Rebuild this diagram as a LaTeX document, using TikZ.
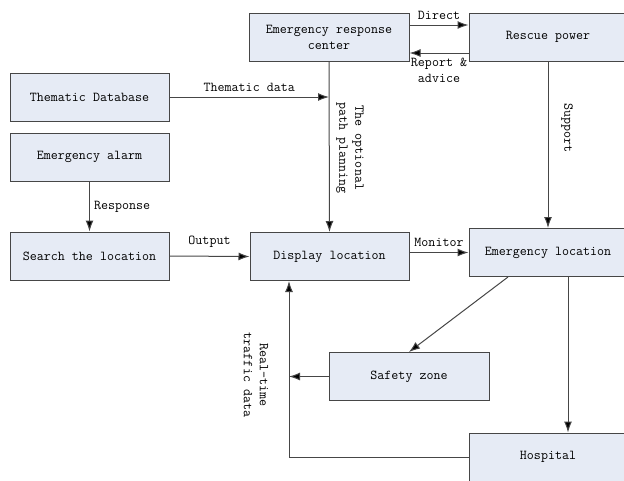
\documentclass[tikz,border=0pt]{standalone}
\usepackage{tikz}
\usetikzlibrary{arrows.meta}
\usetikzlibrary{positioning}
\usetikzlibrary{calc}
\definecolor{boxfill}{RGB}{230,235,245}
\definecolor{edgegray}{RGB}{70,70,70}
\tikzset{
	block/.style={draw=edgegray, fill=boxfill, line width=1pt,
		minimum width=160pt, minimum height=48pt, align=center, inner sep=2pt,
		font=\ttfamily\fontsize{13.6}{16}\selectfont},
	flow/.style={draw=edgegray, line width=1pt, -{Latex[length=11pt,width=8pt,fill=black]}},
	flownoarrow/.style={draw=edgegray, line width=1pt},
	lbl/.style={font=\ttfamily\fontsize{13.6}{16}\selectfont, inner sep=1pt, align=center},
}
\begin{document}
\begin{tikzpicture}[x=1pt, y=-1pt]
	\useasboundingbox (0,0) rectangle (624,480);
	% boxes
	\node[block] (erc) at (329,37) {Emergency response\\center};
	\node[block, minimum width=158pt] (rescue) at (548,37) {Rescue power};
	\node[block, minimum width=159pt] (thematic) at (89.5,97) {Thematic Database};
	\node[block, minimum width=159pt] (alarm) at (89.5,157) {Emergency alarm};
	\node[block, minimum width=159pt] (search) at (89.5,256) {Search the location};
	\node[block, minimum width=159pt] (display) at (329.5,256.5) {Display location};
	\node[block, minimum width=158pt] (emloc) at (548,252.5) {Emergency location};
	\node[block] (safety) at (409,376.5) {Safety zone};
	\node[block, minimum width=158pt] (hospital) at (548,457) {Hospital};
	%
	\draw[flow] ([yshift=12pt]erc.east) -- ([yshift=12pt]rescue.west)
		node[midway, lbl, above=4pt] {Direct};
	\draw[flow] ([yshift=-16pt]rescue.west) -- ([yshift=-16pt]erc.east)
		node[midway, lbl, below=4pt] {Report \&\\advice};
	%
	\draw[flow] (thematic.east) -- (thematic.east -| erc.south)
		node[midway, lbl, above=4pt] {Thematic data};
	\draw[flow] (erc.south) -- (display.north);
	\node[lbl, rotate=-90] (optlbl) at (350,148) {The optional\\path planning};
	%
	\draw[flow] (rescue.south) -- (emloc.north);
	\node[lbl, rotate=-90] (suplbl) at (567,128) {Support};
	%
	\draw[flow] (alarm.south) -- (search.north)
		node[midway, lbl, right=3pt] {Response};
	\draw[flow] (search.east) -- (display.west)
		node[midway, lbl, above=7pt] {Output};
	\draw[flow] (display.east |- emloc.west) -- (emloc.west)
		node[midway, lbl, above=4pt] {Monitor};
	%
	\draw[flow] ([xshift=-40pt]emloc.south) -- (safety.north);
	\draw[flow] ([xshift=20pt]emloc.south) -- ([xshift=20pt]hospital.north);
	%
	\coordinate (rtline) at ([xshift=-40.5pt]display.south);
	\draw[flow] (safety.west) -- (safety.west -| rtline);
	\draw[flow] (hospital.west) -| (rtline);
	\node[lbl, rotate=-90] (rtlbl) at (256,375) {Real-time\\traffic data};
\end{tikzpicture}
\end{document}
